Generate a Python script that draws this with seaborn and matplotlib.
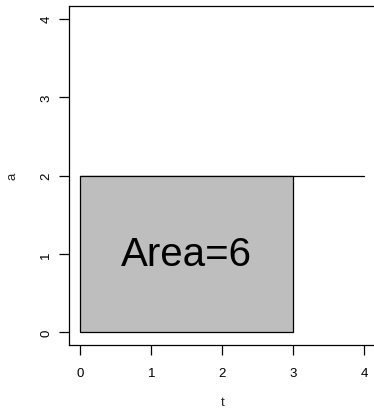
import matplotlib
matplotlib.use("Agg")
import matplotlib.pyplot as plt
import seaborn as sns
import pandas as pd

# Constant function a(t) = 2 over the range 0..4
t_values = [0, 4]
a_values = [2, 2]

# Region under the curve from t=0 to t=3
area_start = 0
area_end = 3
area_height = 2
area_value = (area_end - area_start) * area_height

x_ticks = [0, 1, 2, 3, 4]
y_ticks = [0, 1, 2, 3, 4]

sns.set_style("white")
plt.rcParams["font.family"] = ["Liberation Sans", "DejaVu Sans"]

fig = plt.figure(figsize=(3.74, 4.10), dpi=100)
W, H = 374, 410
left, right, top, bottom = 69, 375.4, 7, 346
ax = fig.add_axes([left / W, 1 - bottom / H, (right - left) / W, (bottom - top) / H])

df = pd.DataFrame({"t": t_values, "a": a_values})
sns.lineplot(data=df, x="t", y="a", ax=ax, color="black", linewidth=0.9, zorder=2)

ax.bar([area_start], [area_height], width=area_end - area_start, align="edge",
       color="#BEBEBE", edgecolor="black", linewidth=0.9, zorder=3)

ax.text((area_start + area_end) / 2, area_height / 2, f"Area={area_value}",
        ha="center", va="center", fontsize=29, color="black", zorder=4)

ax.set_xlim(-0.16, 4.16)
ax.set_ylim(-0.16, 4.16)
ax.set_xticks(x_ticks)
ax.set_yticks(y_ticks)
ax.set_xticklabels([str(v) for v in x_ticks])
ax.set_yticklabels([str(v) for v in y_ticks], rotation=90, va="center")

ax.tick_params(axis="both", direction="out", length=7, width=0.9,
               color="black", labelsize=9.5, labelcolor="black",
               bottom=True, left=True, top=False, right=False)
ax.tick_params(axis="x", pad=9)
ax.tick_params(axis="y", pad=5)

for side in ["left", "bottom", "top"]:
    ax.spines[side].set_color("black")
    ax.spines[side].set_linewidth(0.9)
ax.spines["right"].set_visible(False)

ax.set_xlabel("t", fontsize=9.5)
ax.set_ylabel("a", fontsize=9.5)
ax.xaxis.set_label_coords(0.5, -57 / (bottom - top))
ax.yaxis.set_label_coords((12 - left) / (right - left), 0.5)
ax.xaxis.label.set_va("center")
ax.yaxis.label.set_va("center")

fig.savefig("out.png", dpi=100)
